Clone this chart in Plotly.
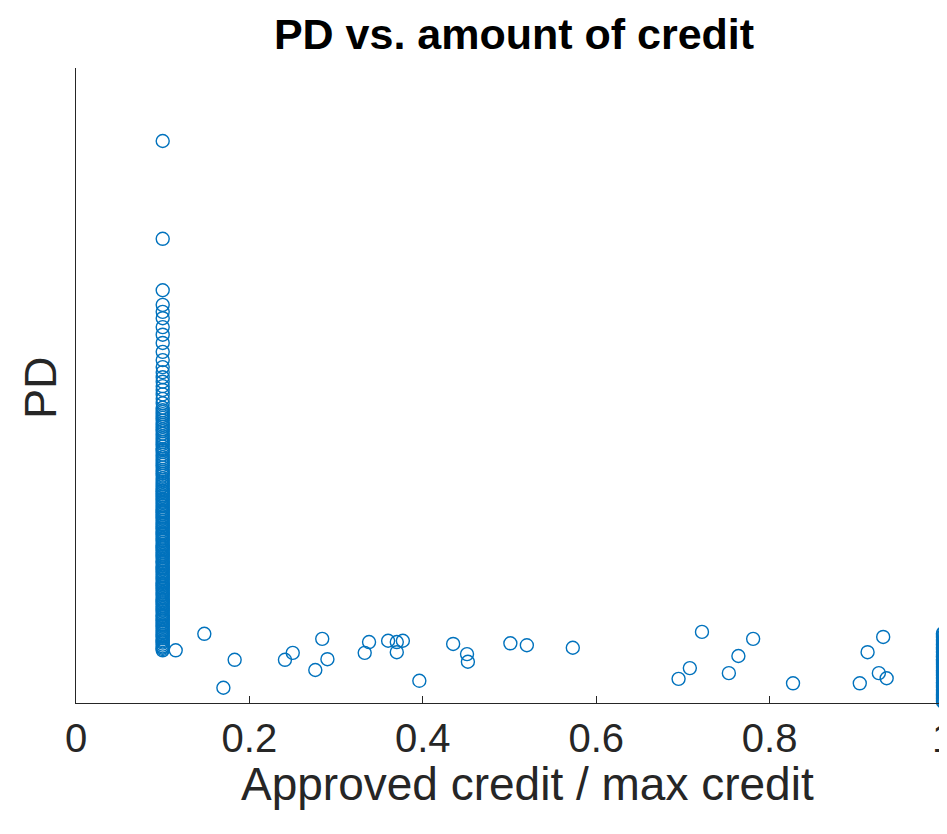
import plotly.graph_objects as go

# Column of applicants at approved/max = 0.1
col_low_x = 0.1
col_low_pd = [0.885, 0.731, 0.650, 0.627, 0.616, 0.606, 0.592, 0.580, 0.567, 0.553,
              0.540, 0.529, 0.521, 0.513, 0.506, 0.499, 0.493, 0.486, 0.479, 0.472,
              0.465, 0.461, 0.458, 0.455, 0.452, 0.449, 0.445, 0.441, 0.438, 0.435,
              0.431, 0.428, 0.424, 0.420, 0.417, 0.414, 0.411, 0.408, 0.404, 0.400,
              0.398, 0.395, 0.391, 0.387, 0.384, 0.381, 0.378, 0.375, 0.371, 0.367,
              0.364, 0.361, 0.358, 0.354, 0.351, 0.348, 0.345, 0.342, 0.338, 0.335,
              0.333, 0.330, 0.327, 0.325, 0.322, 0.320, 0.317, 0.315, 0.312, 0.310,
              0.307, 0.304, 0.302, 0.300, 0.297, 0.294, 0.292, 0.290, 0.287, 0.284,
              0.282, 0.280, 0.277, 0.275, 0.272, 0.269, 0.267, 0.265, 0.262, 0.259,
              0.257, 0.255, 0.252, 0.249, 0.247, 0.245, 0.242, 0.240, 0.237, 0.234,
              0.232, 0.230, 0.227, 0.224, 0.222, 0.220, 0.217, 0.214, 0.212, 0.210,
              0.207, 0.205, 0.202, 0.199, 0.197, 0.195, 0.192, 0.189, 0.187, 0.185,
              0.182, 0.180, 0.177, 0.174, 0.172, 0.170, 0.167, 0.164, 0.162, 0.160,
              0.157, 0.155, 0.152, 0.149, 0.147, 0.145, 0.142, 0.139, 0.137, 0.135,
              0.132, 0.130, 0.127, 0.124, 0.122, 0.120, 0.117, 0.114, 0.112, 0.110,
              0.107, 0.105, 0.102, 0.099, 0.097, 0.095, 0.092, 0.089, 0.087, 0.085,
              0.083]

# Column of applicants at approved/max = 1
col_high_x = 1.0
col_high_pd = [0.110, 0.108, 0.105, 0.103, 0.100, 0.098, 0.096, 0.093, 0.091, 0.088,
               0.086, 0.084, 0.081, 0.079, 0.076, 0.074, 0.072, 0.069, 0.067, 0.064,
               0.062, 0.060, 0.057, 0.055, 0.052, 0.050, 0.048, 0.045, 0.043, 0.040,
               0.038, 0.036, 0.033, 0.031, 0.028, 0.026, 0.024, 0.021, 0.019, 0.016,
               0.014, 0.012, 0.009, 0.007, 0.004, 0.002]

# Scattered applicants
mid_x = [0.115, 0.148, 0.183, 0.170, 0.241, 0.250, 0.276, 0.284, 0.290, 0.333,
         0.338, 0.360, 0.370, 0.377, 0.370, 0.396, 0.435, 0.451, 0.452, 0.501,
         0.520, 0.573, 0.722, 0.708, 0.695, 0.753, 0.764, 0.781, 0.827, 0.931,
         0.913, 0.926, 0.935, 0.904]
mid_pd = [0.083, 0.109, 0.068, 0.024, 0.068, 0.079, 0.052, 0.101, 0.069, 0.079,
          0.096, 0.098, 0.096, 0.098, 0.080, 0.035, 0.093, 0.077, 0.065, 0.094,
          0.091, 0.087, 0.112, 0.055, 0.038, 0.047, 0.074, 0.101, 0.031, 0.104,
          0.080, 0.047, 0.039, 0.031]

x_ticks = [0, 0.2, 0.4, 0.6, 0.8, 1]
x_tick_labels = ["0", "0.2", "0.4", "0.6", "0.8", "1"]

xs = [col_low_x] * len(col_low_pd) + mid_x + [col_high_x] * len(col_high_pd)
ys = col_low_pd + mid_pd + col_high_pd

BLUE = "#0072BD"
DARK = "#262626"
FONT = "Liberation Sans, Arial, Helvetica, sans-serif"

W, H = 939, 826  # page adds an 8px body margin

fig = go.Figure()
fig.add_trace(go.Scatter(
    x=xs, y=ys, mode="markers", cliponaxis=False,
    marker=dict(symbol="circle-open", size=13, color=BLUE, line=dict(width=1.4, color=BLUE)),
    hoverinfo="skip", showlegend=False,
))

fig.update_layout(
    width=W, height=H,
    margin=dict(l=68, r=0, t=60, b=131, autoexpand=False),
    paper_bgcolor="white", plot_bgcolor="white",
    font=dict(family=FONT, color=DARK),
    title=dict(text="<b>PD vs. amount of credit</b>", x=(514 - 8) / W, xref="container",
               y=1 - 26 / H, yref="container", xanchor="center", yanchor="middle",
               font=dict(size=43, color="#000000", family=FONT)),
    xaxis=dict(range=[0, 1.0046], tickmode="array", tickvals=x_ticks, ticktext=x_tick_labels,
               ticks="inside", ticklen=7, tickwidth=1, tickcolor=DARK, automargin=False,
               ticklabeloverflow="allow",
               showline=True, linecolor=DARK, linewidth=1, showgrid=False, zeroline=False,
               tickfont=dict(size=40, color=DARK, family=FONT)),
    yaxis=dict(range=[0, 1], showticklabels=False, ticks="", showline=True, linecolor=DARK,
               linewidth=1, showgrid=False, zeroline=False, automargin=False),
    annotations=[
        dict(text="Approved credit / max credit", xref="paper", yref="paper",
             x=0.518, y=-0.128, xanchor="center", yanchor="middle", showarrow=False,
             font=dict(size=46, color=DARK, family=FONT)),
        dict(text="PD", xref="paper", yref="paper", x=-0.0413, y=0.496, textangle=-90,
             xanchor="center", yanchor="middle", showarrow=False,
             font=dict(size=45, color=DARK, family=FONT)),
    ],
)

fig.write_html("out.html")
